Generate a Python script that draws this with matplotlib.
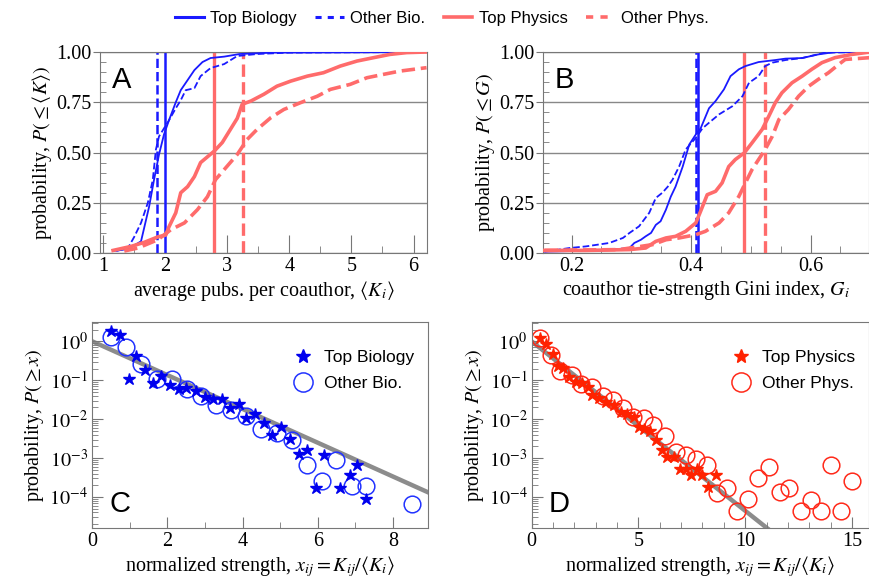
import numpy as np
import matplotlib.pyplot as plt
from matplotlib.lines import Line2D
from matplotlib.ticker import MultipleLocator, LogLocator, NullFormatter

plt.rcParams['font.family'] = ['Liberation Serif', 'DejaVu Serif']
plt.rcParams['mathtext.fontset'] = 'stix'

# ---- panel A : average pubs per coauthor (CDF) ----
a_topbio_x = [1.16, 1.40, 1.61, 1.74, 1.82, 1.90, 1.98, 2.06, 2.17, 2.25, 2.36, 2.47, 2.60, 2.73, 2.95, 3.20, 3.75, 6.20]
a_topbio_y = [0.01, 0.02, 0.058, 0.23, 0.365, 0.49, 0.59, 0.66, 0.75, 0.81, 0.86, 0.91, 0.95, 0.97, 0.977, 0.99, 0.997, 1.0]
a_othbio_x = [1.21, 1.40, 1.50, 1.61, 1.72, 1.80, 1.85, 1.90, 1.98, 2.06, 2.17, 2.25, 2.33, 2.47, 2.57, 2.73, 2.95, 3.16, 3.48, 4.00, 6.20]
a_othbio_y = [0.01, 0.025, 0.08, 0.15, 0.25, 0.365, 0.515, 0.58, 0.62, 0.66, 0.72, 0.76, 0.81, 0.82, 0.88, 0.92, 0.94, 0.98, 0.99, 0.997, 1.0]
a_topphy_x = [1.16, 1.45, 1.66, 1.88, 2.01, 2.06, 2.17, 2.25, 2.36, 2.47, 2.57, 2.79, 2.92, 3.05, 3.16, 3.24, 3.38, 3.59, 3.80, 4.02, 4.29, 4.55, 4.82, 5.09, 5.36, 5.62, 5.89, 6.21]
a_topphy_y = [0.013, 0.033, 0.053, 0.08, 0.09, 0.13, 0.20, 0.30, 0.33, 0.38, 0.45, 0.507, 0.55, 0.615, 0.67, 0.74, 0.756, 0.79, 0.83, 0.855, 0.88, 0.897, 0.93, 0.955, 0.972, 0.988, 0.997, 1.0]
a_othphy_x = [1.34, 1.56, 1.88, 2.09, 2.31, 2.52, 2.68, 2.81, 2.95, 3.16, 3.32, 3.48, 3.70, 3.91, 4.18, 4.45, 4.66, 4.98, 5.25, 5.52, 5.78, 6.21]
a_othphy_y = [0.01, 0.025, 0.066, 0.116, 0.15, 0.216, 0.28, 0.365, 0.415, 0.49, 0.565, 0.615, 0.673, 0.714, 0.748, 0.78, 0.814, 0.839, 0.872, 0.889, 0.905, 0.922]
a_means = [2.0, 1.86, 2.79, 3.25]   # top bio, other bio, top phys, other phys

# ---- panel B : Gini index (CDF) ----
b_topbio_x = [0.155, 0.252, 0.297, 0.305, 0.316, 0.324, 0.333, 0.341, 0.349, 0.358, 0.366, 0.374, 0.386, 0.397, 0.408, 0.416, 0.430, 0.441, 0.455, 0.466, 0.480, 0.491, 0.513, 0.541, 0.558, 0.586, 0.613, 0.641, 0.70]
b_topbio_y = [0.007, 0.013, 0.025, 0.05, 0.066, 0.083, 0.10, 0.14, 0.158, 0.216, 0.28, 0.33, 0.43, 0.54, 0.59, 0.62, 0.72, 0.756, 0.814, 0.88, 0.914, 0.93, 0.95, 0.96, 0.967, 0.97, 0.988, 1.0, 1.0]
b_othbio_x = [0.155, 0.197, 0.224, 0.263, 0.286, 0.297, 0.313, 0.330, 0.341, 0.352, 0.361, 0.369, 0.380, 0.391, 0.408, 0.419, 0.430, 0.447, 0.469, 0.486, 0.497, 0.513, 0.524, 0.536, 0.558, 0.586, 0.624, 0.70]
b_othbio_y = [0.007, 0.025, 0.033, 0.05, 0.075, 0.10, 0.133, 0.20, 0.274, 0.30, 0.33, 0.365, 0.43, 0.515, 0.573, 0.62, 0.648, 0.69, 0.73, 0.78, 0.847, 0.88, 0.93, 0.947, 0.96, 0.97, 0.997, 1.0]
b_topphy_x = [0.155, 0.224, 0.297, 0.324, 0.341, 0.358, 0.374, 0.391, 0.408, 0.416, 0.427, 0.441, 0.452, 0.463, 0.474, 0.489, 0.502, 0.519, 0.530, 0.541, 0.552, 0.569, 0.586, 0.602, 0.619, 0.641, 0.669, 0.70]
b_topphy_y = [0.013, 0.013, 0.017, 0.025, 0.058, 0.075, 0.083, 0.108, 0.15, 0.208, 0.29, 0.307, 0.349, 0.43, 0.465, 0.498, 0.548, 0.615, 0.68, 0.748, 0.797, 0.847, 0.88, 0.914, 0.947, 0.972, 0.988, 1.0]
b_othphy_x = [0.155, 0.280, 0.336, 0.358, 0.380, 0.408, 0.424, 0.447, 0.463, 0.480, 0.491, 0.502, 0.524, 0.536, 0.547, 0.563, 0.580, 0.597, 0.613, 0.630, 0.647, 0.658, 0.70]
b_othphy_y = [0.013, 0.017, 0.042, 0.066, 0.075, 0.091, 0.108, 0.15, 0.20, 0.282, 0.349, 0.415, 0.515, 0.581, 0.664, 0.714, 0.78, 0.83, 0.864, 0.897, 0.938, 0.963, 0.972]
b_means = [0.412, 0.408, 0.489, 0.524]

# ---- panel C : normalized strength, biology (log10 of P) ----
c_top_x = [0.51, 0.73, 0.98, 1.17, 1.40, 1.62, 1.84, 2.06, 2.31, 2.50, 2.75, 2.99, 3.21, 3.44, 3.66, 3.90, 4.10, 4.34, 4.56, 4.79, 5.01, 5.25, 5.49, 5.71, 5.94, 6.17, 6.60, 6.85, 7.05, 7.27]
c_top_logp = [0.257, 0.154, -0.976, -0.377, -0.745, -1.062, -0.891, -1.131, -1.216, -1.20, -1.285, -1.43, -1.473, -1.49, -1.713, -1.602, -1.97, -1.859, -2.09, -2.398, -2.20, -2.50, -2.886, -2.784, -3.769, -2.929, -3.769, -3.443, -3.186, -4.06]
c_oth_x = [0.49, 0.91, 1.31, 1.71, 2.11, 2.51, 2.89, 3.29, 3.70, 4.10, 4.50, 4.92, 5.30, 5.70, 6.11, 6.49, 6.91, 7.29, 8.51]
c_oth_logp = [0.111, -0.146, -0.574, -0.976, -0.959, -1.233, -1.405, -1.627, -1.773, -1.919, -2.244, -2.347, -2.544, -3.169, -3.589, -3.058, -3.717, -3.717, -4.188]
c_fit_x = [0.0, 8.93]
c_fit_y = [1.0, 1.32e-4]

# ---- panel D : normalized strength, physics ----
d_top_x = [0.39, 0.67, 0.98, 1.26, 1.48, 1.76, 2.07, 2.38, 2.62, 2.85, 3.16, 3.50, 3.86, 4.17, 4.49, 4.80, 5.03, 5.27, 5.55, 5.84, 6.12, 6.36, 6.67, 6.93, 7.21, 7.45, 7.76, 7.99, 8.27, 8.61]
d_top_logp = [0.094, -0.077, -0.332, -0.63, -0.698, -0.928, -1.038, -1.072, -1.183, -1.379, -1.464, -1.549, -1.634, -1.804, -1.864, -1.949, -2.204, -2.264, -2.315, -2.545, -2.80, -2.97, -2.97, -3.268, -3.268, -3.438, -3.268, -3.438, -3.736, -3.438]
d_oth_x = [0.39, 0.90, 1.32, 1.87, 2.31, 2.85, 3.32, 3.82, 4.30, 4.75, 5.27, 5.70, 6.25, 6.74, 7.21, 7.71, 8.19, 8.66, 9.16, 9.63, 10.12, 10.61, 11.11, 11.62, 12.07, 12.59, 13.08, 13.55, 14.02, 14.50, 15.0]
d_oth_logp = [0.094, -0.357, -0.757, -0.868, -1.098, -1.183, -1.396, -1.506, -1.719, -1.949, -1.974, -2.162, -2.434, -2.843, -2.911, -3.013, -3.183, -3.906, -3.779, -4.357, -4.06, -3.523, -3.226, -3.881, -3.762, -4.357, -4.077, -4.357, -3.166, -4.357, -3.591]
d_fit_x = [0.0, 11.3]
d_fit_y = [1.0, 1.2e-5]

labels = ['Top Biology', 'Other Bio.', 'Top Physics', 'Other Phys.']

BLUE = '#1a1aff'
RED = '#ff6b6b'
SPINE = '#777777'
sans = ['Liberation Sans', 'DejaVu Sans']
FS = 14.5

fig = plt.figure(figsize=(8.7, 5.81), dpi=100)
axA = fig.add_axes([0.115, 0.5645, 0.376, 0.346])
axB = fig.add_axes([0.624, 0.5645, 0.375, 0.346])
axC = fig.add_axes([0.106, 0.091, 0.386, 0.355])
axD = fig.add_axes([0.611, 0.091, 0.388, 0.355])


def style_cdf(ax):
    ax.set_ylim(0, 1)
    ax.yaxis.set_major_locator(MultipleLocator(0.25))
    ax.yaxis.set_minor_locator(MultipleLocator(0.05))
    ax.yaxis.set_major_formatter(plt.FuncFormatter(lambda v, p: '%.2f' % v))
    ax.grid(axis='y', color='#888888', lw=1.0)
    ax.tick_params(axis='y', which='major', direction='out', length=5, color=SPINE, labelsize=FS, pad=1)
    ax.tick_params(axis='y', which='minor', direction='in', length=4, color=SPINE)
    ax.tick_params(axis='x', which='major', direction='in', length=13, color=SPINE, labelsize=FS, pad=3)
    ax.tick_params(axis='x', which='minor', direction='in', length=5, color=SPINE)
    for s in ax.spines.values():
        s.set_color(SPINE)


def draw_cdf(ax, curves, means):
    styles = [(BLUE, '-', 1.3), (BLUE, '--', 1.3), (RED, '-', 2.6), (RED, '--', 2.6)]
    vl = [(BLUE, '-', 1.8), (BLUE, '--', 1.8), (RED, '-', 2.4), (RED, '--', 2.4)]
    for (c, ls, lw), m in zip(vl, means):
        ax.axvline(m, color=c, ls=ls, lw=lw, zorder=2)
    for (xs, ys), (c, ls, lw) in zip(curves, styles):
        ax.plot(xs, ys, color=c, ls=ls, lw=lw, zorder=3)


# panel A
draw_cdf(axA, [(a_topbio_x, a_topbio_y), (a_othbio_x, a_othbio_y),
               (a_topphy_x, a_topphy_y), (a_othphy_x, a_othphy_y)], a_means)
style_cdf(axA)
axA.set_xlim(0.95, 6.22)
axA.xaxis.set_major_locator(MultipleLocator(1))
axA.xaxis.set_minor_locator(MultipleLocator(0.5))
axA.set_xlabel(r'average pubs. per coauthor, $\langle K_i\rangle$', fontsize=FS, labelpad=2)
axA.set_ylabel(r'probability, $P(\leq\langle K\rangle)$', fontsize=FS, labelpad=2)
axA.text(0.035, 0.93, 'A', transform=axA.transAxes, fontsize=21, family=sans, va='top')

# panel B
draw_cdf(axB, [(b_topbio_x, b_topbio_y), (b_othbio_x, b_othbio_y),
               (b_topphy_x, b_topphy_y), (b_othphy_x, b_othphy_y)], b_means)
style_cdf(axB)
axB.set_xlim(0.152, 0.698)
axB.xaxis.set_major_locator(MultipleLocator(0.2))
axB.xaxis.set_minor_locator(MultipleLocator(0.05))
axB.xaxis.set_major_formatter(plt.FuncFormatter(lambda v, p: '%.1f' % v))
axB.set_xlabel(r'coauthor tie-strength Gini index, $G_i$', fontsize=FS, labelpad=2)
axB.set_ylabel(r'probability, $P(\leq G)$', fontsize=FS, labelpad=2)
axB.text(0.035, 0.93, 'B', transform=axB.transAxes, fontsize=21, family=sans, va='top')


def style_log(ax, xmax, major, minor):
    ax.set_yscale('log')
    ax.set_ylim(10 ** -4.8, 10 ** 0.5)
    ax.set_xlim(0, xmax)
    ax.yaxis.set_minor_locator(LogLocator(base=10, subs=np.arange(2, 10), numticks=10))
    ax.yaxis.set_minor_formatter(NullFormatter())
    ax.set_yticks([1e-4, 1e-3, 1e-2, 1e-1, 1])
    ax.set_yticklabels([r'$10^{-4}$', r'$10^{-3}$', r'$10^{-2}$', r'$10^{-1}$', r'$10^{0}$'])
    ax.xaxis.set_major_locator(MultipleLocator(major))
    ax.xaxis.set_minor_locator(MultipleLocator(minor))
    ax.tick_params(which='major', direction='in', length=8, color=SPINE, labelsize=FS, pad=3)
    ax.tick_params(which='minor', direction='in', length=4, color=SPINE)
    for s in ax.spines.values():
        s.set_color(SPINE)
    ax.set_xlabel(r'normalized strength, $x_{ij} = K_{ij}/\langle K_i\rangle$', fontsize=FS, labelpad=2)
    ax.set_ylabel(r'probability, $P(\geq x)$', fontsize=FS, labelpad=2)


# panel C
axC.plot(c_fit_x, c_fit_y, color='#8c8c8c', lw=3.2, zorder=1)
axC.plot(c_top_x, 10 ** np.array(c_top_logp), ls='none', marker='*', ms=9,
         color='#0000ee', mec='#0000ee', label=labels[0], zorder=3)
axC.plot(c_oth_x, 10 ** np.array(c_oth_logp), ls='none', marker='o', ms=12,
         mfc='none', mec='#2233ff', mew=1.1, label=labels[1], zorder=2)
style_log(axC, 8.93, 2, 1)
axC.legend(loc='upper right', frameon=False, prop={'family': sans, 'size': 12.5},
           handletextpad=0.2, labelspacing=0.6, borderaxespad=0.4, markerscale=1.15,
           bbox_to_anchor=(1.0, 0.93))
axC.text(0.05, 0.05, 'C', transform=axC.transAxes, fontsize=21, family=sans, va='bottom')

# panel D
axD.plot(d_fit_x, d_fit_y, color='#8c8c8c', lw=3.2, zorder=1)
axD.plot(d_top_x, 10 ** np.array(d_top_logp), ls='none', marker='*', ms=9,
         color='#ff2200', mec='#ff2200', label=labels[2], zorder=3)
axD.plot(d_oth_x, 10 ** np.array(d_oth_logp), ls='none', marker='o', ms=12,
         mfc='none', mec='#ff2a1a', mew=1.1, label=labels[3], zorder=2)
style_log(axD, 15.8, 5, 1)
axD.legend(loc='upper right', frameon=False, prop={'family': sans, 'size': 12.5},
           handletextpad=0.2, labelspacing=0.6, borderaxespad=0.4, markerscale=1.15,
           bbox_to_anchor=(1.0, 0.93))
axD.text(0.05, 0.05, 'D', transform=axD.transAxes, fontsize=21, family=sans, va='bottom')

# top legend
handles = [Line2D([], [], color=BLUE, ls='-', lw=2.2),
           Line2D([], [], color=BLUE, ls=(0, (2, 2)), lw=2.2),
           Line2D([], [], color=RED, ls='-', lw=2.6),
           Line2D([], [], color=RED, ls=(0, (2, 2)), lw=2.6)]
fig.legend(handles, labels, loc='center', bbox_to_anchor=(0.508, 0.968), ncol=4, frameon=False,
           prop={'family': sans, 'size': 12}, handlelength=1.7, handletextpad=0.4, columnspacing=1.1)

fig.savefig('out.png', dpi=100)
